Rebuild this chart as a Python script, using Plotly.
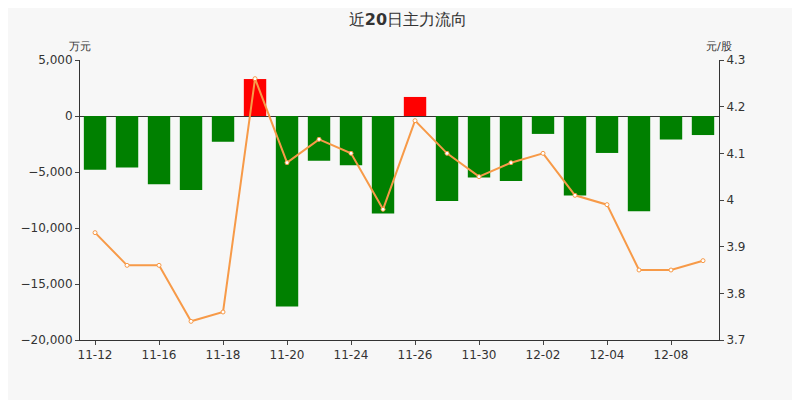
import plotly.graph_objects as go

dates = ["11-12","11-13","11-16","11-17","11-18","11-19","11-20","11-23","11-24","11-25",
         "11-26","11-27","11-30","12-01","12-02","12-03","12-04","12-07","12-08","12-09"]
flow = [-4800,-4600,-6100,-6600,-2300,3300,-17000,-4000,-4400,-8700,
        1700,-7600,-5500,-5800,-1600,-7100,-3300,-8500,-2100,-1700]
price = [3.93,3.86,3.86,3.74,3.76,4.26,4.08,4.13,4.10,3.98,
         4.17,4.10,4.05,4.08,4.10,4.01,3.99,3.85,3.85,3.87]
tick_dates = ["11-12","11-16","11-18","11-20","11-24","11-26","11-30","12-02","12-04","12-08"]

colors = ["#ff0000" if v > 0 else "#008000" for v in flow]
fig = go.Figure()
fig.add_bar(x=dates, y=flow, marker=dict(color=colors, line=dict(width=0)), width=0.7)
fig.add_scatter(x=dates, y=price, yaxis="y2", mode="lines+markers",
                line=dict(color="#f79a48", width=2),
                marker=dict(size=4, color="white", line=dict(color="#f79a48", width=1)))
fig.update_layout(
    width=800, height=400, showlegend=False,
    paper_bgcolor="#f7f7f7", plot_bgcolor="#f7f7f7",
    margin=dict(l=72, r=89, t=52, b=68),
    font=dict(family="DejaVu Sans", size=12, color="#333"),
    title=dict(text="近<b>20</b>日主力流向", x=0.5, y=0.985, yanchor="top", xanchor="center", font=dict(size=16, color="#333")),
    xaxis=dict(type="category", range=[-0.47, 19.5], tickmode="array", tickvals=tick_dates, ticktext=tick_dates,
               showline=True, linecolor="#333", ticks="outside", ticklen=4, showgrid=False,
               zeroline=False),
    yaxis=dict(range=[-20000, 5000], tickvals=[-20000,-15000,-10000,-5000,0,5000],
               tickformat=",", showline=True, linecolor="#333", ticks="outside", ticklen=4,
               showgrid=False, zeroline=True, zerolinecolor="#333", zerolinewidth=1),
    yaxis2=dict(range=[3.7, 4.3], tickvals=[3.7,3.8,3.9,4.0,4.1,4.2,4.3],
                ticktext=["3.7","3.8","3.9","4","4.1","4.2","4.3"],
                overlaying="y", side="right", showline=True, linecolor="#333",
                ticks="outside", ticklen=4, showgrid=False, zeroline=False),
)
fig.add_annotation(text="万元", xref="paper", yref="paper", x=0, y=1, yshift=22, xanchor="center", showarrow=False, font=dict(size=11))
fig.add_annotation(text="元/股", xref="paper", yref="paper", x=1, y=1, yshift=22, xanchor="center", showarrow=False, font=dict(size=11))
fig.write_html("out.html")
